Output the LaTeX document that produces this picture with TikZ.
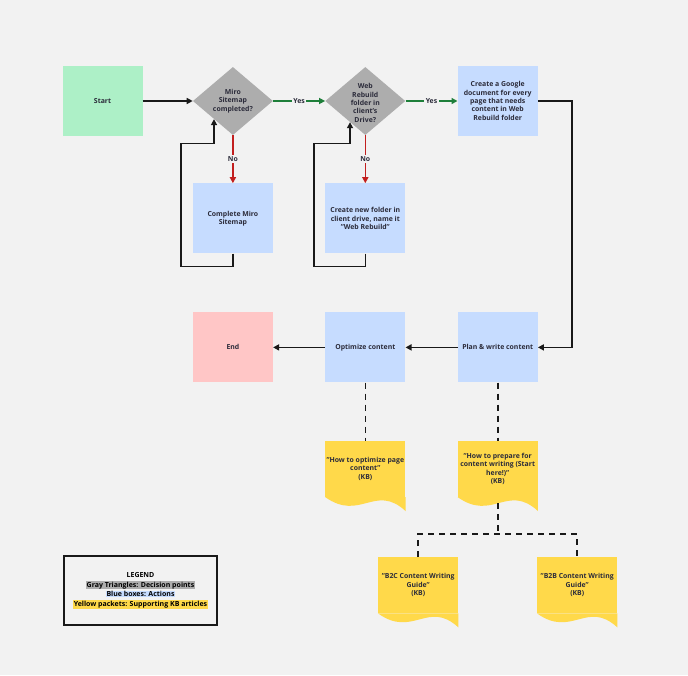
\documentclass[tikz,border=0pt]{standalone}
\usepackage{fontspec}
\setmainfont{Open Sans}
\usepackage{xcolor}
\usetikzlibrary{shapes,arrows.meta,positioning,calc}

\definecolor{canvas}{HTML}{F2F2F2}
\definecolor{startgreen}{HTML}{ADF0C7}
\definecolor{actblue}{HTML}{C6DCFF}
\definecolor{endpink}{HTML}{FFC6C6}
\definecolor{decgray}{HTML}{ADADAD}
\definecolor{kbyellow}{HTML}{FFD94A}
\definecolor{yesgreen}{HTML}{1E7F3A}
\definecolor{nored}{HTML}{C21F1F}
\definecolor{inkdark}{HTML}{2B2B3A}

% wavy bottom of a KB packet
\newcommand{\kbwave}[1]{%
  \fill[kbyellow] (#1.south west) -- (#1.south east) -- ++(0,14)
    .. controls ($(#1.south west)+(50,-14)$) and ($(#1.south west)+(35,25)$) .. (#1.south west) -- cycle;}
\newcommand{\legendmark}[2]{{\fboxsep=0.7pt\colorbox{#1}{#2}}}

\begin{document}
\begin{tikzpicture}[
  x=1pt, y=-1pt,
  font=\fontsize{6.9}{8.3}\selectfont\bfseries, text=inkdark,
  box/.style={rectangle, minimum width=80pt, minimum height=70pt,
    inner sep=1pt, align=center},
  startblock/.style={box, fill=startgreen},
  block/.style={box, fill=actblue},
  endblock/.style={box, fill=endpink},
  decision/.style={diamond, fill=decgray, minimum width=80pt,
    minimum height=68pt, inner sep=0pt},
  dectext/.style={align=center, inner sep=0pt},
  kbdoc/.style={rectangle, fill=kbyellow, minimum width=80pt,
    minimum height=56pt, inner sep=1pt, align=center},
  arrow/.style={-{Triangle[length=6pt, width=6pt]}, line width=1.6pt, draw=black!90},
  yesarrow/.style={arrow, draw=yesgreen},
  noarrow/.style={arrow, draw=nored},
  lbl/.style={fill=canvas, inner sep=1.5pt, text=inkdark},
  kblink/.style={line width=1.6pt, draw=black!90, dash pattern=on 6pt off 5pt},
]
  \useasboundingbox (0,0) rectangle (688,675);
  \fill[canvas] (0,0) rectangle (688,675);

  \node[startblock] (start) at (102.5,101) {Start};
  \node[decision, right=50pt of start] (mirodec) {};
  \node[dectext] (mirotext) at (mirodec) {Miro\\Sitemap\\completed?};
  \node[decision, right=52pt of mirodec] (webdec) {};
  \node[dectext] (webtext) at ($(webdec)+(0,2)$) {Web\\Rebuild\\folder in\\client's\\Drive?};
  \node[block, right=52pt of webdec] (gdoc) {Create a Google\\document for every\\page that needs\\content in Web\\Rebuild folder};
  \node[block, below=48pt of mirodec] (miromap) {Complete Miro\\Sitemap};
  \node[block, below=48pt of webdec] (newfolder) {Create new folder in\\client drive, name it\\"Web Rebuild"};
  \node[block, below=176pt of gdoc] (plan) {Plan \& write content};
  \node[block, left=52pt of plan] (optimize) {Optimize content};
  \node[endblock, left=52pt of optimize] (finish) {End};

  \node[kbdoc, below=58pt of optimize] (optdoc) {"How to optimize page\\content"\\(KB)};
  \kbwave{optdoc}
  \node[kbdoc, below=58pt of plan] (prepdoc) {"How to prepare for\\content writing (Start\\here!)"\\(KB)};
  \kbwave{prepdoc}
  \node[kbdoc, below=60pt of prepdoc, xshift=-79.5pt] (b2cdoc) {"B2C Content Writing\\Guide"\\(KB)};
  \kbwave{b2cdoc}
  \node[kbdoc, below=60pt of prepdoc, xshift=79.5pt] (b2bdoc) {"B2B Content Writing\\Guide"\\(KB)};
  \kbwave{b2bdoc}

  \draw[arrow] (start) -- (mirodec);
  \draw[yesarrow] (mirodec) -- node[lbl] {Yes} (webdec);
  \draw[yesarrow] (webdec) -- node[lbl] {Yes} (gdoc);
  \draw[noarrow] (mirodec) -- node[lbl] {No} (miromap);
  \draw[noarrow] (webdec) -- node[lbl] {No} (newfolder);
  \draw[arrow] (miromap.south) -- ++(0,13) -| ++(-52,-123) -| ($(mirodec.west)!0.53!(mirodec.south)$);
  \draw[arrow] (newfolder.south) -- ++(0,13) -| ++(-51.5,-123) -| ($(webdec.west)!0.62!(webdec.south)$);
  \draw[arrow] (gdoc.east) -- ++(34,0) |- (plan.east);
  \draw[arrow] (plan) -- (optimize);
  \draw[arrow] (optimize) -- (finish);

  \draw[kblink] (optimize) -- (optdoc);
  \draw[kblink] (plan) -- (prepdoc);
  \coordinate (split) at ($(prepdoc.south)+(0,37)$);
  \draw[kblink] ($(prepdoc.south)+(0,6)$) -- (split);
  \draw[kblink] (b2cdoc.north) |- (split) -| (b2bdoc.north);

  \node[draw=black!90, line width=1.4pt, minimum width=153pt, minimum height=69pt,
    align=center, font=\fontsize{7}{9.7}\selectfont\bfseries, text=black] (legend) at (140.5,590.5)
    {LEGEND\\\legendmark{decgray}{Gray Triangles: Decision points}\\
     \legendmark{actblue}{Blue boxes: Actions}\\
     \legendmark{kbyellow}{Yellow packets: Supporting KB articles}};
\end{tikzpicture}
\end{document}
